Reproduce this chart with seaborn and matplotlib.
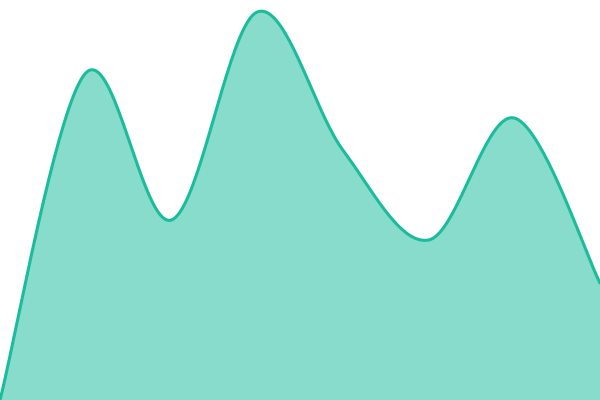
import numpy as np
import pandas as pd
import matplotlib
matplotlib.use("Agg")
import matplotlib.pyplot as plt
import seaborn as sns

# data points (index on x, value on y)
points = [0, 1, 2, 3, 4, 5, 6, 7]
values = [0, 32.7, 18, 38.8, 25, 16, 28.2, 11.7]

line_color = "#1abc9c"


# cardinal (catmull-rom) spline, like d3.curveCardinal
def cardinal(xs, ys, steps=40):
    xs = np.asarray(xs, dtype=float)
    ys = np.asarray(ys, dtype=float)
    n = len(xs)
    mx = np.zeros(n)
    my = np.zeros(n)
    for i in range(n):
        a = max(i - 1, 0)
        b = min(i + 1, n - 1)
        mx[i] = (xs[b] - xs[a]) / 2
        my[i] = (ys[b] - ys[a]) / 2
    out_x, out_y = [], []
    t = np.linspace(0, 1, steps)
    h00 = 2 * t**3 - 3 * t**2 + 1
    h10 = t**3 - 2 * t**2 + t
    h01 = -2 * t**3 + 3 * t**2
    h11 = t**3 - t**2
    for i in range(n - 1):
        out_x.extend(h00 * xs[i] + h10 * mx[i] + h01 * xs[i + 1] + h11 * mx[i + 1])
        out_y.extend(h00 * ys[i] + h10 * my[i] + h01 * ys[i + 1] + h11 * my[i + 1])
    return np.array(out_x), np.array(out_y)


sx, sy = cardinal(points, values)
curve = pd.DataFrame({"x": sx, "y": sy})

sns.set_style("white")
fig = plt.figure(figsize=(6, 4), dpi=100)
ax = fig.add_axes([0, 0, 1, 1])

ax.fill_between(curve["x"], curve["y"], 0, color=line_color, alpha=0.52, linewidth=0)
sns.lineplot(data=curve, x="x", y="y", ax=ax, color=line_color, linewidth=2.2, sort=False)

ax.set_xlim(0, 7)
ax.set_ylim(0, 40)
ax.axis("off")

fig.savefig("out.png", dpi=100)
